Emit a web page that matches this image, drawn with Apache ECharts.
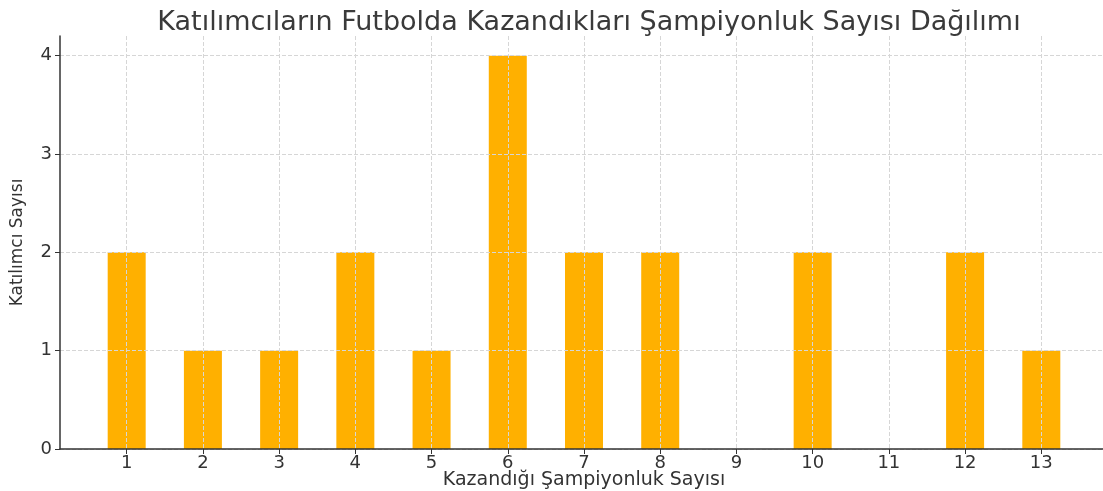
<!DOCTYPE html>
<html>
<head>
<meta charset="utf-8">
<script src="https://cdn.jsdelivr.net/npm/echarts@6/dist/echarts.min.js"></script>
<style>
  html, body { margin: 0; padding: 0; background: #fff; }
  #chart { width: 1103px; height: 491px; }
</style>
</head>
<body>
<div id="chart"></div>
<script>
// kazanılan şampiyonluk sayısı -> katılımcı sayısı
var championships = [1, 2, 3, 4, 5, 6, 7, 8, 10, 12, 13];
var participants = [2, 1, 1, 2, 1, 4, 2, 2, 2, 2, 1];
var xTicks = [1, 2, 3, 4, 5, 6, 7, 8, 9, 10, 11, 12, 13];
var yTicks = [0, 1, 2, 3, 4];

var FONT = 'DejaVu Sans';
var TEXT = '#333333';

var chart = echarts.init(document.getElementById('chart'));

var barData = championships.map(function (c, i) {
    return [c, participants[i]];
});

var option = {
    animation: false,
    title: {
        text: 'Katılımcıların Futbolda Kazandıkları Şampiyonluk Sayısı Dağılımı',
        left: 584,
        top: 4,
        textAlign: 'center',
        textStyle: { fontFamily: FONT, fontSize: 27, fontWeight: 'normal', color: '#3a3a3a' }
    },
    grid: { left: 60, right: -5, top: 36, bottom: 42, outerBoundsMode: 'none' },
    xAxis: {
        type: 'value',
        min: 0.125,
        max: 13.875,
        z: 3,
        name: 'Kazandığı Şampiyonluk Sayısı',
        nameLocation: 'middle',
        nameGap: 22,
        nameMoveOverlap: false,
        nameTextStyle: { fontFamily: FONT, fontSize: 19, color: TEXT },
        axisLine: { show: true, lineStyle: { color: '#333', width: 1.5 } },
        axisTick: { show: true, length: 5, customValues: xTicks, lineStyle: { color: '#333' } },
        axisLabel: { customValues: xTicks, fontFamily: FONT, fontSize: 18, color: TEXT, margin: 5 },
        splitLine: { show: true, lineStyle: { color: '#d6d6d6', type: [4, 2], width: 1 } }
    },
    yAxis: {
        type: 'value',
        min: 0,
        max: 4.2,
        z: 3,
        name: 'Katılımcı Sayısı',
        nameLocation: 'middle',
        nameGap: 34,
        nameMoveOverlap: false,
        nameTextStyle: { fontFamily: FONT, fontSize: 17, color: TEXT },
        axisLine: { show: true, lineStyle: { color: '#333', width: 1.5 } },
        axisTick: { show: true, length: 5, customValues: yTicks, lineStyle: { color: '#333' } },
        axisLabel: { customValues: yTicks, fontFamily: FONT, fontSize: 18, color: TEXT, margin: 8 },
        splitLine: { show: true, lineStyle: { color: '#d6d6d6', type: [4, 2], width: 1 } }
    },
    series: [
        {
            type: 'bar',
            data: barData,
            barWidth: 38,
            itemStyle: { color: '#FFB000' }
        }
    ]
};

chart.setOption(option);
</script>
</body>
</html>
